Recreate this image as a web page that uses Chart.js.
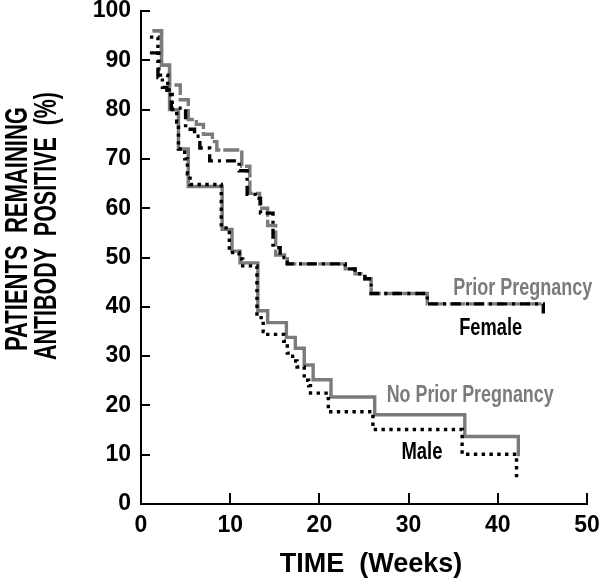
<!DOCTYPE html>
<html>
<head>
<meta charset="utf-8">
<script src="https://cdn.jsdelivr.net/npm/chart.js@4.4.1/dist/chart.umd.min.js"></script>
<style>
html,body{margin:0;padding:0;background:#fff;}
#wrap{width:600px;height:581px;}
</style>
</head>
<body>
<div id="wrap"><canvas id="km" width="600" height="581"></canvas></div>
<script>
// Kaplan-Meier steps: at each x (weeks) the curve drops to the matching y (%)
const priorX   = [1.3, 2.3, 3.2, 4.4, 5.3, 6.2, 7.0, 8.0, 8.5, 11.3, 12.2, 13.3, 14.2, 15.1, 16.4, 22.9, 24.0, 25.1, 25.8, 32.1, 45.1];
const priorY   = [96, 89, 85, 82, 78, 77, 75, 73.5, 71.8, 68.5, 63, 60, 56.5, 50.5, 48.7, 47.7, 46.7, 45.7, 42.7, 40.6, 40.6];
const femaleX  = [1.0, 1.9, 2.4, 2.9, 3.4, 5.0, 6.0, 6.6, 7.7, 11.0, 11.9, 12.8, 13.4, 14.8, 15.6, 16.4, 22.9, 24.0, 25.1, 25.8, 32.1, 45.1];
const femaleY  = [91.5, 86.5, 84.5, 83, 80.3, 76, 74.6, 72.2, 69.6, 67.6, 62.8, 62, 59, 52, 50, 48.7, 47.7, 46.7, 45.7, 42.7, 40.6, 38];
const noPriorX = [1.3, 2.3, 3.2, 4.2, 5.3, 9.1, 10.2, 11.1, 13.1, 14.2, 16.3, 17.3, 18.3, 19.3, 21.3, 26.2, 36.3, 42.3];
const noPriorY = [96, 89, 80, 72, 64.4, 55.7, 51.3, 48.9, 39.2, 36.8, 33.8, 31.6, 28.2, 25.2, 21.7, 18.1, 13.7, 9.7];
const maleX    = [1.0, 1.9, 2.0, 3.0, 3.5, 4.0, 4.2, 4.9, 5.2, 5.5, 9.0, 9.9, 11.0, 11.4, 13.0, 13.7, 14.0, 16.0, 16.4, 17.0, 17.5, 18.3, 18.8, 19.0, 21.0, 26.0, 36.0, 42.1];
const maleY    = [94.7, 92, 87, 84, 80, 77.5, 72, 70, 67, 64.8, 56, 51, 49.7, 48.3, 37.8, 35, 34.4, 33, 30.6, 29, 27.8, 25.1, 24, 22.5, 18.7, 15.1, 10.1, 5.4];

const xTicks = [0, 10, 20, 30, 40, 50];
const yTicks = [0, 10, 20, 30, 40, 50, 60, 70, 80, 90, 100];
const xTitle = 'TIME  (Weeks)';
const yTitle = ['PATIENTS  REMAINING', 'ANTIBODY  POSITIVE  (%)'];

const GRAY = '#7b7b7b';
const FONT = "'Liberation Sans', Arial, sans-serif";

// curve names placed next to the curves (data coords)
const tags = [
  {text:'Prior Pregnancy',    x:42.8, y:43.6, color:GRAY,   w:139},
  {text:'Female',             x:39.2, y:35.6, color:'#000', w:63},
  {text:'No Prior Pregnancy', x:36.9, y:21.9, color:GRAY,   w:167},
  {text:'Male',               x:31.5, y:10.5, color:'#000', w:41}
];

const pts = (xs, ys) => xs.map((x, i) => ({x, y: ys[i]}));

// draws text squeezed horizontally to a given width (the original lettering is condensed)
function squeeze(ctx, text, x, y, width, rot){
  ctx.save();
  ctx.translate(x, y);
  if(rot) ctx.rotate(rot);
  const w = ctx.measureText(text).width;
  ctx.scale(width / w, 1);
  ctx.fillText(text, 0, 0);
  ctx.restore();
}

const decor = {
  id:'decor',
  afterDraw(chart){
    const {ctx, chartArea:a, scales:{x, y}} = chart;
    ctx.save();
    // inward tick marks
    ctx.strokeStyle = '#000';
    ctx.lineWidth = 2;
    ctx.beginPath();
    xTicks.forEach(v => {
      if(v === 0) return;
      const px = Math.round(x.getPixelForValue(v));
      ctx.moveTo(px, a.bottom); ctx.lineTo(px, a.bottom - 11);
    });
    yTicks.forEach(v => {
      if(v === 0) return;
      const py = Math.round(y.getPixelForValue(v));
      ctx.moveTo(a.left, py); ctx.lineTo(a.left + 9, py);
    });
    ctx.stroke();

    ctx.textAlign = 'center';
    ctx.textBaseline = 'middle';
    ctx.font = `bold 23px ${FONT}`;
    tags.forEach(t => {
      ctx.fillStyle = t.color;
      squeeze(ctx, t.text, x.getPixelForValue(t.x), y.getPixelForValue(t.y), t.w);
    });

    ctx.fillStyle = '#000';
    ctx.font = `bold 27px ${FONT}`;
    ctx.fillText(xTitle, (a.left + a.right) / 2 + 7, 565);

    ctx.font = `bold 32px ${FONT}`;
    squeeze(ctx, yTitle[0], 18, 229, 244, -Math.PI / 2);
    squeeze(ctx, yTitle[1], 47, 226, 268, -Math.PI / 2);
    ctx.restore();
  }
};

const stepLine = (label, data, color, dash, order) => ({
  label, data,
  borderColor: color,
  borderWidth: 3.4,
  borderDash: dash,
  borderCapStyle: 'butt',
  stepped: 'before',
  pointRadius: 0,
  fill: false,
  order
});

new Chart(document.getElementById('km'), {
  type: 'line',
  data: {
    datasets: [
      stepLine('Male', pts(maleX, maleY), '#000', [3.4, 4.4], 0),
      stepLine('Female', pts(femaleX, femaleY), '#000', [10, 5, 3, 5], 0),
      stepLine('No Prior Pregnancy', pts(noPriorX, noPriorY), GRAY, [], 1),
      stepLine('Prior Pregnancy', pts(priorX, priorY), GRAY, [16, 3], 1)
    ]
  },
  options: {
    responsive: false,
    animation: false,
    events: [],
    layout: {padding: {top: 11, right: 13, left: 0, bottom: 0}},
    plugins: {legend: {display: false}, tooltip: {enabled: false}},
    scales: {
      x: {
        type: 'linear', min: 0, max: 50,
        afterBuildTicks: s => { s.ticks = xTicks.map(v => ({value: v})); },
        afterFit: s => { s.height = 77; s.paddingLeft = 0; s.paddingRight = 0; },
        grid: {display: false, drawTicks: false},
        border: {display: true, color: '#000', width: 2},
        ticks: {color: '#000', font: {family: FONT, size: 23, weight: 'bold'}, padding: 8, maxRotation: 0}
      },
      y: {
        min: 0, max: 100,
        afterBuildTicks: s => { s.ticks = yTicks.map(v => ({value: v})); },
        afterFit: s => { s.width = 141; s.paddingTop = 0; s.paddingBottom = 0; },
        grid: {display: false, drawTicks: false},
        border: {display: true, color: '#000', width: 2},
        ticks: {color: '#000', font: {family: FONT, size: 23, weight: 'bold'}, padding: 10}
      }
    }
  },
  plugins: [decor]
});
</script>
</body>
</html>
